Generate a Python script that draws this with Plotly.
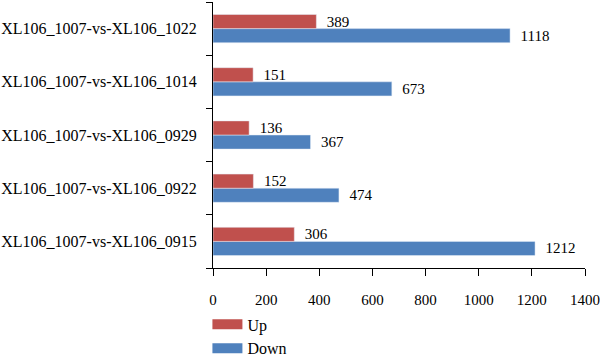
import plotly.graph_objects as go

categories = ["XL106_1007-vs-XL106_0915", "XL106_1007-vs-XL106_0922",
              "XL106_1007-vs-XL106_0929", "XL106_1007-vs-XL106_1014",
              "XL106_1007-vs-XL106_1022"]
up_values = [306, 152, 136, 151, 389]
down_values = [1212, 474, 367, 673, 1118]
x_ticks = [0, 200, 400, 600, 800, 1000, 1200, 1400]

font_family = "Liberation Serif"
up_color = "#C0504D"
down_color = "#4F81BD"
label_tpl = "\u00a0\u00a0%{x}"
fig = go.Figure()
fig.add_trace(go.Bar(y=categories, x=down_values, name="Down", orientation="h",
                     marker=dict(color=down_color), texttemplate=label_tpl,
                     textposition="outside", cliponaxis=False, constraintext="none",
                     showlegend=False,
                     textfont=dict(size=15, color="black", family=font_family)))
fig.add_trace(go.Bar(y=categories, x=up_values, name="Up", orientation="h",
                     marker=dict(color=up_color), texttemplate=label_tpl,
                     textposition="outside", cliponaxis=False, constraintext="none",
                     showlegend=False,
                     textfont=dict(size=15, color="black", family=font_family)))
# legend swatches (wide rectangles like the reference)
fig.add_trace(go.Scatter(x=[None], y=[None], mode="lines", name="Up",
                         line=dict(color=up_color, width=12)))
fig.add_trace(go.Scatter(x=[None], y=[None], mode="lines", name="Down",
                         line=dict(color=down_color, width=12)))

fig.update_layout(
    width=600, height=360,
    margin=dict(l=213, r=15, t=2, b=92, autoexpand=False),
    barmode="group", bargap=0.47, bargroupgap=0,
    plot_bgcolor="white", paper_bgcolor="white",
    font=dict(family=font_family, size=16, color="black"),
    showlegend=True,
    legend=dict(orientation="v", x=-0.015, xanchor="left",
                yref="container", y=0.146, yanchor="top",
                font=dict(size=16), tracegroupgap=0),
    xaxis=dict(range=[0, 1400], tickvals=x_ticks, showgrid=False, zeroline=False,
               showline=True, linecolor="black", linewidth=1, automargin=False,
               ticks="outside", ticklen=7, tickcolor="black",
               ticklabelstandoff=11,
               tickfont=dict(size=15, family=font_family)),
    yaxis=dict(categoryorder="array", categoryarray=categories, showgrid=False,
               showline=True, linecolor="black", linewidth=1, automargin=False,
               ticks="outside", ticklen=6, tickcolor="black", tickson="boundaries",
               ticklabelstandoff=12,
               tickfont=dict(size=16, family=font_family)),
)
fig.write_html("out.html", config={"displayModeBar": False},
               post_script="document.body.style.margin='0';")
